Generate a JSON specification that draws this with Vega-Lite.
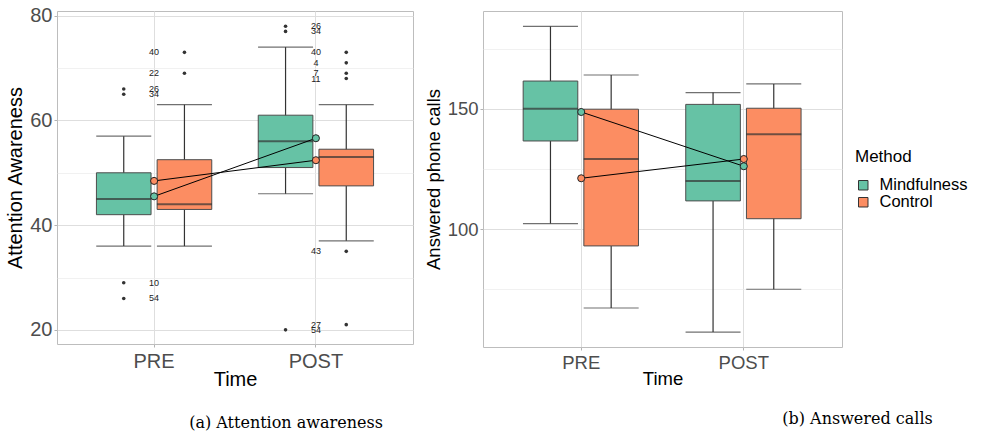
{
  "$schema": "https://vega.github.io/schema/vega-lite/v6.json",
  "padding": {"left": 5, "top": 5, "right": 0, "bottom": 0},
  "background": "white",
  "config": {
    "font": "Liberation Sans",
    "view": {"stroke": "#BDBDBD", "strokeWidth": 1},
    "axis": {"domain": false, "tickColor": "#B3B3B3", "tickSize": 3, "labelColor": "#4D4D4D", "titleColor": "#000000", "titleFontWeight": "normal", "gridColor": "#DEDEDE", "gridWidth": 1, "labelFont": "Liberation Sans", "titleFont": "Liberation Sans"},
    "legend": {"titleFontSize": 17, "labelFontSize": 16.5, "titleFontWeight": "normal", "titleColor": "#000000", "labelColor": "#000000", "symbolType": "square", "symbolSize": 90, "symbolStrokeColor": "#333333", "symbolStrokeWidth": 1, "rowPadding": 0, "titlePadding": 11, "labelOffset": 8, "padding": 0, "labelFont": "Liberation Sans", "titleFont": "Liberation Sans"},
    "title": {"font": "DejaVu Serif", "fontSize": 16, "fontWeight": "normal", "color": "#000000"}
  },
  "datasets": {
    "attn": [
      {"Time": "PRE", "Method": "Mindfulness", "lower": 36, "q1": 42, "median": 45, "q3": 50, "upper": 57, "mean": 45.5},
      {"Time": "PRE", "Method": "Control", "lower": 36, "q1": 43, "median": 44, "q3": 52.5, "upper": 63, "mean": 48.45},
      {"Time": "POST", "Method": "Mindfulness", "lower": 46, "q1": 51, "median": 56, "q3": 61, "upper": 74, "mean": 56.6},
      {"Time": "POST", "Method": "Control", "lower": 37, "q1": 47.5, "median": 53, "q3": 54.5, "upper": 63, "mean": 52.4}
    ],
    "attnOut": [
      {"Time": "PRE", "Method": "Mindfulness", "value": 66, "label": "26"},
      {"Time": "PRE", "Method": "Mindfulness", "value": 65, "label": "34"},
      {"Time": "PRE", "Method": "Mindfulness", "value": 29, "label": "10"},
      {"Time": "PRE", "Method": "Mindfulness", "value": 26, "label": "54"},
      {"Time": "PRE", "Method": "Control", "value": 73, "label": "40"},
      {"Time": "PRE", "Method": "Control", "value": 69, "label": "22"},
      {"Time": "POST", "Method": "Mindfulness", "value": 78, "label": "26"},
      {"Time": "POST", "Method": "Mindfulness", "value": 77, "label": "34"},
      {"Time": "POST", "Method": "Mindfulness", "value": 20, "label": "54"},
      {"Time": "POST", "Method": "Control", "value": 73, "label": "40"},
      {"Time": "POST", "Method": "Control", "value": 71, "label": "4"},
      {"Time": "POST", "Method": "Control", "value": 69, "label": "7"},
      {"Time": "POST", "Method": "Control", "value": 68, "label": "11"},
      {"Time": "POST", "Method": "Control", "value": 35, "label": "43"},
      {"Time": "POST", "Method": "Control", "value": 21, "label": "27"}
    ],
    "calls": [
      {"Time": "PRE", "Method": "Mindfulness", "lower": 102.4, "q1": 136.7, "median": 150.1, "q3": 161.6, "upper": 184.3, "mean": 148.75},
      {"Time": "PRE", "Method": "Control", "lower": 67.3, "q1": 93.1, "median": 129.2, "q3": 149.9, "upper": 164.1, "mean": 121.2},
      {"Time": "POST", "Method": "Mindfulness", "lower": 57.3, "q1": 111.8, "median": 120.1, "q3": 151.9, "upper": 156.8, "mean": 126.2},
      {"Time": "POST", "Method": "Control", "lower": 75.1, "q1": 104.4, "median": 139.5, "q3": 150.3, "upper": 160.4, "mean": 129.2}
    ]
  },
  "spacing": 70,
  "bounds": "flush",
  "hconcat": [
    {
      "width": 356,
      "height": 333,
      "title": {"text": "(a) Attention awareness", "orient": "bottom", "anchor": "middle", "frame": "group", "dx": 51, "offset": 26},
      "encoding": {
        "x": {"field": "Time", "type": "nominal", "sort": ["PRE", "POST"], "scale": {"paddingInner": 0, "paddingOuter": 0.1},
              "axis": {"title": "Time", "labelAngle": 0, "labelFontSize": 20, "titleFontSize": 20, "labelPadding": 4, "titlePadding": -2, "grid": true}}
      },
      "layer": [
        {
          "data": {"name": "attn"},
          "mark": {"type": "rule", "color": "#333333", "strokeWidth": 1.2},
          "encoding": {
            "xOffset": {"field": "Method", "sort": ["Mindfulness", "Control"], "scale": {"paddingInner": 0.1, "paddingOuter": 0.383}},
            "y": {"field": "lower", "type": "quantitative", "scale": {"domain": [17.3, 80.9], "nice": false, "zero": false},
                  "axis": {"title": "Attention Awareness", "values": [20, 30, 40, 50, 60, 70, 80], "labelExpr": "datum.value % 20 === 0 ? datum.label : ''", "labelFontSize": 20, "titleFontSize": 20, "labelPadding": 2, "titlePadding": 4,
                           "gridColor": {"condition": {"test": "datum.value % 20 === 0", "value": "#DEDEDE"}, "value": "#EBEBEB"},
                           "gridWidth": {"condition": {"test": "datum.value % 20 === 0", "value": 1}, "value": 0.7},
                           "tickOpacity": {"condition": {"test": "datum.value % 20 === 0", "value": 1}, "value": 0}}},
            "y2": {"field": "upper"}
          }
        },
        {
          "data": {"name": "attn"},
          "mark": {"type": "tick", "color": "#333333", "size": 55, "thickness": 1.2},
          "encoding": {
            "xOffset": {"field": "Method", "sort": ["Mindfulness", "Control"]},
            "y": {"field": "upper", "type": "quantitative"}
          }
        },
        {
          "data": {"name": "attn"},
          "mark": {"type": "tick", "color": "#333333", "size": 55, "thickness": 1.2},
          "encoding": {
            "xOffset": {"field": "Method", "sort": ["Mindfulness", "Control"]},
            "y": {"field": "lower", "type": "quantitative"}
          }
        },
        {
          "data": {"name": "attn"},
          "mark": {"type": "bar", "stroke": "#4D4D4D", "strokeWidth": 1, "opacity": 1},
          "encoding": {
            "xOffset": {"field": "Method", "sort": ["Mindfulness", "Control"]},
            "y": {"field": "q1", "type": "quantitative"},
            "y2": {"field": "q3"},
            "fill": {"field": "Method", "type": "nominal", "sort": ["Mindfulness", "Control"], "scale": {"domain": ["Mindfulness", "Control"], "range": ["#66C2A5", "#FC8D62"]},
                     "legend": {"title": "Method", "orient": "none", "legendX": 798, "legendY": 138}}
          }
        },
        {
          "data": {"name": "attn"},
          "mark": {"type": "tick", "color": "#333333", "size": 55, "thickness": 2},
          "encoding": {
            "xOffset": {"field": "Method", "sort": ["Mindfulness", "Control"]},
            "y": {"field": "median", "type": "quantitative"}
          }
        },
        {
          "data": {"name": "attnOut"},
          "mark": {"type": "point", "filled": true, "color": "#333333", "size": 13, "opacity": 1},
          "encoding": {
            "xOffset": {"field": "Method", "sort": ["Mindfulness", "Control"]},
            "y": {"field": "value", "type": "quantitative"}
          }
        },
        {
          "data": {"name": "attnOut"},
          "mark": {"type": "text", "fontSize": 9, "color": "#222222"},
          "encoding": {
            "y": {"field": "value", "type": "quantitative"},
            "text": {"field": "label"}
          }
        },
        {
          "data": {"name": "attn"},
          "mark": {"type": "line", "color": "#000000", "strokeWidth": 1},
          "encoding": {
            "y": {"field": "mean", "type": "quantitative"},
            "detail": {"field": "Method"}
          }
        },
        {
          "data": {"name": "attn"},
          "mark": {"type": "point", "filled": true, "shape": "circle", "size": 50, "stroke": "#222222", "strokeWidth": 1, "opacity": 1},
          "encoding": {
            "y": {"field": "mean", "type": "quantitative"},
            "fill": {"field": "Method", "type": "nominal", "sort": ["Mindfulness", "Control"]}
          }
        }
      ]
    },
    {
      "width": 359,
      "height": 336,
      "title": {"text": "(b) Answered calls", "orient": "bottom", "anchor": "middle", "frame": "group", "dx": 195, "offset": 23},
      "encoding": {
        "x": {"field": "Time", "type": "nominal", "sort": ["PRE", "POST"], "scale": {"paddingInner": 0, "paddingOuter": 0.104},
              "axis": {"title": "Time", "labelAngle": 0, "labelFontSize": 18.5, "titleFontSize": 18.5, "labelPadding": 3, "titlePadding": -2, "grid": true}}
      },
      "layer": [
        {
          "data": {"name": "calls"},
          "mark": {"type": "rule", "color": "#333333", "strokeWidth": 1.2},
          "encoding": {
            "xOffset": {"field": "Method", "sort": ["Mindfulness", "Control"], "scale": {"paddingInner": 0.1, "paddingOuter": 0.383}},
            "y": {"field": "lower", "type": "quantitative", "scale": {"domain": [51.1, 190.7], "nice": false, "zero": false},
                  "axis": {"title": "Answered phone calls", "values": [75, 100, 125, 150, 175], "labelExpr": "datum.value % 50 === 0 ? datum.label : ''", "labelFontSize": 18.5, "titleFontSize": 18.5, "labelPadding": 2, "titlePadding": 4,
                           "gridColor": {"condition": {"test": "datum.value % 50 === 0", "value": "#DEDEDE"}, "value": "#EBEBEB"},
                           "gridWidth": {"condition": {"test": "datum.value % 50 === 0", "value": 1}, "value": 0.7},
                           "tickOpacity": {"condition": {"test": "datum.value % 50 === 0", "value": 1}, "value": 0}}},
            "y2": {"field": "upper"}
          }
        },
        {
          "data": {"name": "calls"},
          "mark": {"type": "tick", "color": "#333333", "size": 55, "thickness": 1.2},
          "encoding": {
            "xOffset": {"field": "Method", "sort": ["Mindfulness", "Control"]},
            "y": {"field": "upper", "type": "quantitative"}
          }
        },
        {
          "data": {"name": "calls"},
          "mark": {"type": "tick", "color": "#333333", "size": 55, "thickness": 1.2},
          "encoding": {
            "xOffset": {"field": "Method", "sort": ["Mindfulness", "Control"]},
            "y": {"field": "lower", "type": "quantitative"}
          }
        },
        {
          "data": {"name": "calls"},
          "mark": {"type": "bar", "stroke": "#4D4D4D", "strokeWidth": 1, "opacity": 1},
          "encoding": {
            "xOffset": {"field": "Method", "sort": ["Mindfulness", "Control"]},
            "y": {"field": "q1", "type": "quantitative"},
            "y2": {"field": "q3"},
            "fill": {"field": "Method", "type": "nominal", "sort": ["Mindfulness", "Control"]}
          }
        },
        {
          "data": {"name": "calls"},
          "mark": {"type": "tick", "color": "#333333", "size": 55, "thickness": 2},
          "encoding": {
            "xOffset": {"field": "Method", "sort": ["Mindfulness", "Control"]},
            "y": {"field": "median", "type": "quantitative"}
          }
        },
        {
          "data": {"name": "calls"},
          "mark": {"type": "line", "color": "#000000", "strokeWidth": 1},
          "encoding": {
            "y": {"field": "mean", "type": "quantitative"},
            "detail": {"field": "Method"}
          }
        },
        {
          "data": {"name": "calls"},
          "mark": {"type": "point", "filled": true, "shape": "circle", "size": 50, "stroke": "#222222", "strokeWidth": 1, "opacity": 1},
          "encoding": {
            "y": {"field": "mean", "type": "quantitative"},
            "fill": {"field": "Method", "type": "nominal", "sort": ["Mindfulness", "Control"]}
          }
        }
      ]
    }
  ]
}
